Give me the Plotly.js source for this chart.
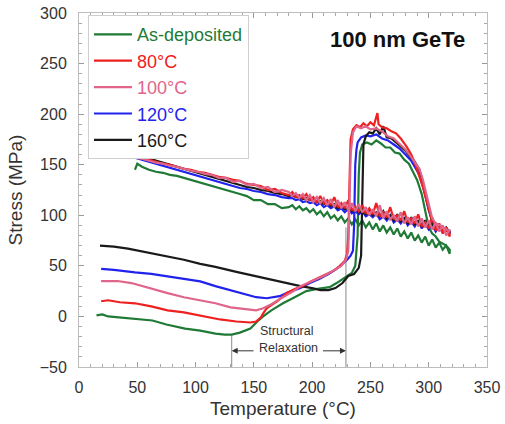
<!DOCTYPE html>
<html>
<head>
<meta charset="utf-8">
<script src="https://cdn.plot.ly/plotly-3.0.1.min.js"></script>
<style>html,body{margin:0;padding:0;background:#fff;}#chart{width:505px;height:424px;}</style>
</head>
<body>
<div id="chart"></div>
<script>
// ---- Data ----
const seriesNames = ['As-deposited', '80°C', '100°C', '120°C', '160°C'];

// As-deposited: heating then cooling
const asDepHeatT = [15,20,25,35,48, 63,75,91,104,117, 125,131,138,147,153, 158,165,175,185,195, 203,209,215,221,226, 230,234,237,239,240, 241,243,247,251,255, 259,263,267,271,275, 279,283,287,290,292, 294,296,298,300,303, 306,309,312,315,318];
const asDepHeatS = [1,2,0,-1,-2, -4,-8,-12,-14,-17, -18,-18,-16,-12,-5, 0,6,13,19,25, 27,28,29,33,37, 40,43,50,80,140, 162,170,172,170,174, 171,167,167,162,161, 155,151,142,135,128, 121,110,97,88,82, 79,74,72,70,66];
const asDepCoolT = [318,315,312,309,306,303,300,297,294,291, 288,285,282,279,276,273,270,267,264,261, 258,255,252,249,246,243,240,237,234,231, 228,225,222,219,216,213,210,207,204,201, 198,195,192,189,186,183,180, 174,168,162,156,150,144,138,132,126,120, 114,108,102,96,90,84,78,72,66,60, 54,50,48];
const asDepCoolS = [62,70,66,73,68,76,70,79,73,80, 75,83,77,84,79,87,81,88,83,90, 84,92,86,93,88,95,90,96,91,97, 93,99,95,100,97,103,99,104,101,106, 103,107,105,109,106,110,108, 107,111,111,115,115,119,121,123,125,127, 129,131,133,135,137,139,140,142,143,145, 148,151,145];

// 80°C
const t80HeatT = [19,25,35,48,62, 76,90,104,121,135, 147,152,156,158,161, 166,170,174,178,185, 192,198,205,212,218, 224,228,230,231,232, 233,235,238,241,244, 247,250,253,256,257, 260,264,268,272,276, 281,285,288,292,295, 298,302,305,308,312, 315,318];
const t80HeatS = [15,16,14,13,10, 6,4,1,-3,-5, -6,-5,-1,3,8, 12,15,19,23,27, 30,34,38,42,45, 50,55,62,80,130, 175,185,189,187,191, 188,192,189,201,190, 187,186,183,181,176, 168,160,152,138,128, 115,98,92,88,86, 85,82];
const coolTempsTo24 = [318,315,312,309,306,303,300,297,294,291, 288,285,282,279,276,273,270,267,264,261, 258,255,252,249,246,243,240,237,234,231, 228,225,222,219,216,213,210,207,204,201, 198,195,192,189,186,183,180, 174,168,162,156,150,144,138,132,126,120, 114,108,102,96,90,84,78,72,66,60, 54,48,42,36,30,24];
const t80CoolS = [79,88,82,92,85,98,87,93,89,101, 92,97,93,104,95,100,96,108,98,103, 99,112,101,107,102,110,104,109,105,115, 107,112,108,118,110,115,112,119,113,118, 115,121,117,120,118,123,120, 122,126,125,129,130,131,134,135,137,138, 140,142,143,145,146,148,150,151,153,155, 156,158,160,161,163,165];

// 100°C
const t100HeatT = [19,24,33,45,60, 76,90,104,117,130, 142,152,158,165,172, 178,184,190,200,210, 218,225,229,231,232, 233,235,238,242,246, 250,255,260,265,270, 275,280,284,288,292, 295,298,301,303,306, 310,314,318];
const t100HeatS = [35,35,35,33,28, 23,19,16,13,9, 7,6,8,12,17, 21,25,30,35,40, 45,50,56,65,110, 160,182,188,186,188, 185,186,183,178,176, 170,165,159,153,146, 135,120,105,97,92, 90,87,84];
const t100CoolS = [86,80,90,84,93,86,95,88,97,89, 99,91,98,92,103,94,100,96,104,97, 110,99,106,100,108,103,111,104,112,105, 113,107,115,108,116,110,117,112,118,113, 120,115,121,117,122,119,123, 125,123,128,127,131,130,134,133,137,137, 140,141,143,144,146,148,149,151,152,154, 156,157,159,161,162,164];

// 120°C
const t120HeatT = [19,30,48,62,76, 90,104,117,130,142, 152,161,166,172,180, 190,198,206,214,221, 226,230,233,235,236, 237,238,239,242,246, 250,255,260,265,270, 275,280,285,289,292, 296,300,304,308,313, 318];
const t120HeatS = [47,46,43.5,42,39.6, 37,34.6,30,26,22, 19,18,19,20,24, 28,33,37,42,47, 52,56,60,65,90, 150,165,172,177,179, 178,180,176,174,170, 166,160,154,146,140, 125,105,92,88,86, 84];
const t120CoolS = [82,87,83,89,84,91,86,92,87,95, 89,94,90,97,92,96,93,100,95,99, 96,102,98,101,99,104,101,104,102,106, 103,107,105,109,107,110,108,112,110,113, 112,114,113,116,115,117,117, 118,120,121,123,124,126,127,129,131,133, 135,137,139,141,143,145,147,149,151,153, 155,157,159,160,162,164];

// 160°C
const t160HeatT = [18,30,42,60,76, 90,104,117,135,150, 165,180,190,200,207, 214,220,226,231,236, 240,242,243,244,246, 249,252,255,258,261, 264,268,272,276,280, 284,288,292,295,299, 303,306,310,314,318];
const t160HeatS = [70,69,67,63,59, 56,52,49,44,40, 36,32,30,28,26, 26,28,33,40,42, 48,60,120,170,178, 182,181,186,180,188, 177,176,172,168,164, 158,153,145,130,110, 93,90,87,85,84];
const coolTempsTo48 = [318,315,312,309,306,303,300,297,294,291, 288,285,282,279,276,273,270,267,264,261, 258,255,252,249,246,243,240,237,234,231, 228,225,222,219,216,213,210,207,204,201, 198,195,192,189,186,183,180, 174,168,162,156,150,144,138,132,126,120, 114,108,102,96,90,84,78,72,66,60, 54,48];
const t160CoolS = [83,88,84,90,86,92,88,95,89,94, 91,98,92,97,94,101,95,100,97,104, 99,103,100,106,101,105,103,108,104,107, 106,110,107,111,109,113,111,114,113,116, 115,117,116,118,118,120,119, 121,122,124,125,127,128,130,132,134,136, 138,140,142,144,146,148,150,152,154,156, 158,161];

// Structural relaxation markers
const relaxBounds = [131, 229];
const relaxLineTops = [-18, 88];

const colors = ['#1f7a35', '#ee2020', '#e0658a', '#2222ee', '#1a1a1a'];
const FONT = 'Liberation Sans, Arial, Helvetica, sans-serif';

function mk(i, hT, hS, cT, cS) {
  return {
    x: hT.concat(cT), y: hS.concat(cS),
    type: 'scatter', mode: 'lines',
    name: '<span style="color:' + colors[i] + '">' + seriesNames[i] + '</span>',
    line: {color: colors[i], width: 2.2},
    legendrank: i + 1,
    hoverinfo: 'skip'
  };
}

const traces = [
  mk(0, asDepHeatT, asDepHeatS, asDepCoolT, asDepCoolS),
  mk(3, t120HeatT, t120HeatS, coolTempsTo24, t120CoolS),
  mk(4, t160HeatT, t160HeatS, coolTempsTo48, t160CoolS),
  mk(1, t80HeatT, t80HeatS, coolTempsTo24, t80CoolS),
  mk(2, t100HeatT, t100HeatS, coolTempsTo24, t100CoolS)
];

const axisCommon = {
  showline: true, mirror: 'ticks', linecolor: '#bdbdbd', linewidth: 1,
  ticks: 'inside', ticklen: 5, tickcolor: '#999', tickwidth: 1,
  showgrid: false, zeroline: false,
  tickfont: {family: FONT, size: 16, color: '#333'},
  minor: {ticks: 'inside', ticklen: 3, tickcolor: '#aaa', dtick: 10, showgrid: false}
};

const layout = {
  width: 505, height: 424,
  margin: {l: 79, r: 18, t: 13, b: 57},
  paper_bgcolor: '#fff', plot_bgcolor: '#fff',
  font: {family: FONT, color: '#333'},
  showlegend: true,
  legend: {
    x: 0.022, y: 0.994, xanchor: 'left', yanchor: 'top',
    bordercolor: '#cfcfcf', borderwidth: 1, bgcolor: '#fff',
    font: {family: FONT, size: 18}, traceorder: 'normal', itemwidth: 38
  },
  xaxis: Object.assign({}, axisCommon, {
    range: [0, 350], dtick: 50, tick0: 0, ticklabelstandoff: 6,
    title: {text: 'Temperature (°C)', font: {family: FONT, size: 19, color: '#333'}, standoff: 6}
  }),
  yaxis: Object.assign({}, axisCommon, {
    range: [-50, 300], dtick: 50, tick0: 0, ticklabelstandoff: 8,
    title: {text: 'Stress (MPa)', font: {family: FONT, size: 19, color: '#333'}, standoff: 12}
  }),
  shapes: relaxBounds.map((b, i) => ({
    type: 'line', xref: 'x', yref: 'y', x0: b, x1: b, y0: -50, y1: relaxLineTops[i],
    line: {color: '#8a8a8a', width: 1}, layer: 'below'
  })),
  annotations: [
    {xref: 'paper', yref: 'paper', x: 0.781, y: 0.924, xanchor: 'center', yanchor: 'middle',
     text: '<b>100 nm GeTe</b>', showarrow: false,
     font: {family: FONT, size: 22, color: '#111'}},
    {xref: 'x', yref: 'y', x: 178, y: -14.5, text: 'Structural', showarrow: false,
     xanchor: 'center', yanchor: 'middle', font: {family: FONT, size: 12.5, color: '#333'}},
    {xref: 'x', yref: 'y', x: 180, y: -31, text: 'Relaxation', showarrow: false,
     xanchor: 'center', yanchor: 'middle', font: {family: FONT, size: 12.5, color: '#333'}},
    {xref: 'x', yref: 'y', x: relaxBounds[0], y: -34, ax: 151, ay: -34, axref: 'x', ayref: 'y',
     text: '', showarrow: true, arrowhead: 2, arrowsize: 1.2, arrowwidth: 1, arrowcolor: '#333'},
    {xref: 'x', yref: 'y', x: relaxBounds[1], y: -34, ax: 208, ay: -34, axref: 'x', ayref: 'y',
     text: '', showarrow: true, arrowhead: 2, arrowsize: 1.2, arrowwidth: 1, arrowcolor: '#333'}
  ]
};

Plotly.newPlot('chart', traces, layout, {staticPlot: true, displayModeBar: false});
</script>
</body>
</html>
